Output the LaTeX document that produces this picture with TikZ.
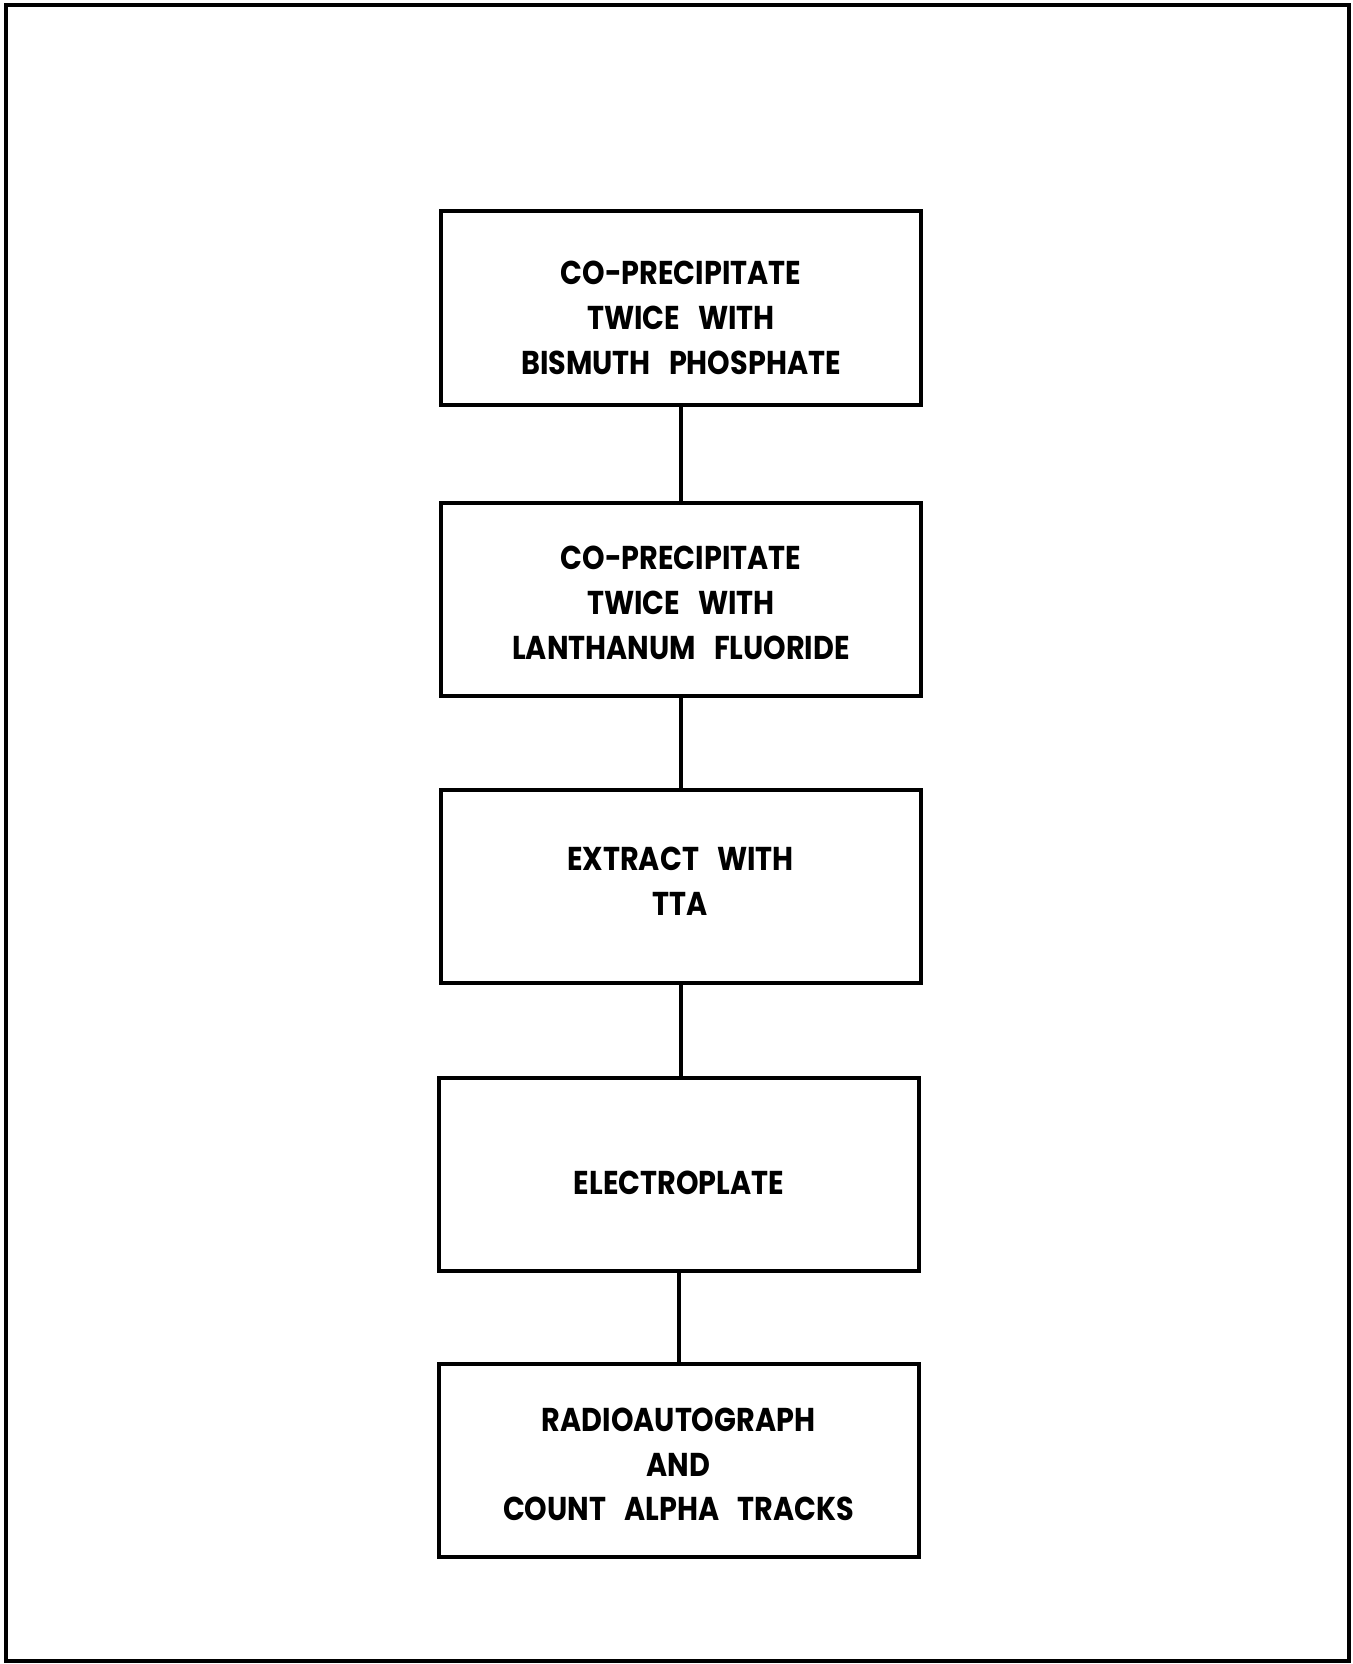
\documentclass[tikz,border=0pt]{standalone}
\usepackage{fontspec}
\setmainfont{Poppins}[FakeStretch=0.87]
\begin{document}
\begin{tikzpicture}[x=0.5pt,y=-0.5pt,
  stepbox/.style={draw=black, line width=2pt, rectangle, minimum width=240pt, minimum height=96.5pt,
    inner sep=0pt},
  steptext/.style={inner sep=0pt, align=center, font=\fontsize{16.5}{22.4}\selectfont\bfseries},
  link/.style={draw=black, line width=2pt}]
\useasboundingbox (0,0) rectangle (1353,1664);
\draw[line width=1.6pt] (6,5) rectangle (1349,1661);
\newcommand{\wsp}{\hspace{0.55em}}
\node[stepbox] (b1) at (681,308) {};
\node[stepbox] (b2) at (681,599) {};
\node[stepbox] (b3) at (680.5,886.5) {};
\node[stepbox] (b4) at (679,1174) {};
\node[stepbox] (b5) at (678.5,1460.5) {};
\node[steptext] (t1) at (681,318) {CO-PRECIPITATE\\TWICE\wsp WITH\\BISMUTH\wsp PHOSPHATE};
\node[steptext] (t2) at (681,603) {CO-PRECIPITATE\\TWICE\wsp WITH\\LANTHANUM\wsp FLUORIDE};
\node[steptext] (t3) at (680.5,881) {EXTRACT\wsp WITH\\TTA};
\node[steptext] (t4) at (679,1183) {ELECTROPLATE};
\node[steptext] (t5) at (678.5,1464.5) {RADIOAUTOGRAPH\\AND\\COUNT\wsp ALPHA\wsp TRACKS};
\draw[link] (b1.south) -- (b1.south |- b2.north);
\draw[link] (b2.south) -- (b2.south |- b3.north);
\draw[link] (b3.south) -- (b3.south |- b4.north);
\draw[link] (b4.south) -- (b4.south |- b5.north);
\end{tikzpicture}
\end{document}
